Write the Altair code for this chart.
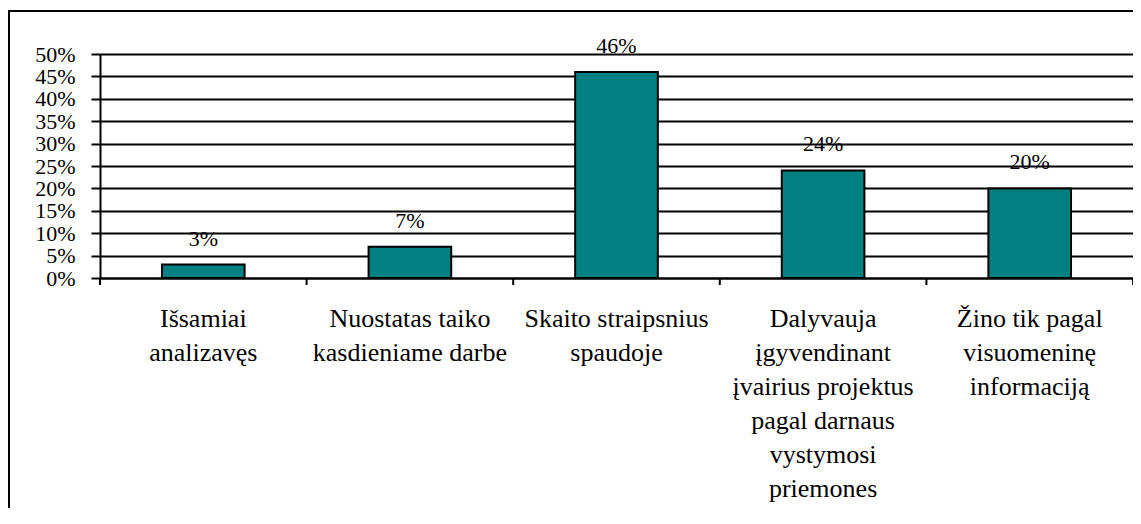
import altair as alt
import pandas as pd

categories = [
    "Išsamiai\nanalizavęs",
    "Nuostatas taiko\nkasdieniame darbe",
    "Skaito straipsnius\nspaudoje",
    "Dalyvauja\nįgyvendinant\nįvairius projektus\npagal darnaus\nvystymosi\npriemones",
    "Žino tik pagal\nvisuomeninę\ninformaciją",
]
shares = [0.03, 0.07, 0.46, 0.24, 0.20]
y_ticks = [0, 0.05, 0.10, 0.15, 0.20, 0.25, 0.30, 0.35, 0.40, 0.45, 0.50]

df = pd.DataFrame({"cat": categories, "share": shares})
one = df.head(1)

W, H = 1033, 224
FONT = "Liberation Serif"

x_axis = alt.Axis(
    title=None, labelAngle=0, ticks=False, grid=False,
    labelExpr="split(datum.label, '\\n')",
)
y_axis = alt.Axis(title=None, values=y_ticks, format=".0%", grid=True)

x_main = alt.X("cat:N", sort=categories,
               scale=alt.Scale(paddingInner=0, paddingOuter=0), axis=x_axis)
y_main = alt.Y("share:Q", scale=alt.Scale(domain=[0, 0.5], nice=False), axis=y_axis)

border = alt.Chart(one).mark_rect(fillOpacity=0, stroke="black", strokeWidth=2).encode(
    x=alt.value(-91), x2=alt.value(3000), y=alt.value(-43), y2=alt.value(3000)
)

bars = alt.Chart(df).mark_bar(
    width={"band": 0.4}, color="#008080", stroke="black", strokeWidth=2
).encode(x=x_main, y=y_main)

labels = alt.Chart(df).mark_text(
    dy=-19, baseline="alphabetic", font=FONT, fontSize=22, color="black"
).encode(
    x=alt.X("cat:N", sort=categories, axis=x_axis),
    y=alt.Y("share:Q", axis=y_axis),
    text=alt.Text("share:Q", format=".0%"),
)

xticks = alt.Chart(df).mark_rule(color="black", strokeWidth=2).encode(
    x=alt.X("cat:N", sort=categories, bandPosition=0, axis=x_axis),
    y=alt.value(H), y2=alt.value(H + 7),
)
last_tick = alt.Chart(one).mark_rule(color="black", strokeWidth=2).encode(
    x=alt.value(W), y=alt.value(H), y2=alt.value(H + 7)
)

chart = alt.layer(border, bars, labels, xticks, last_tick).properties(
    width=W, height=H,
    autosize=alt.AutoSizeParams(type="none"),
    padding={"left": 92, "top": 46, "right": 0, "bottom": 230},
).configure_view(stroke=None).configure_axis(
    domainColor="black", domainWidth=2, labelColor="black", labelFont=FONT,
    labelOverlap=False, labelLimit=0,
).configure_axisX(
    labelFontSize=26, labelLineHeight=34, labelPadding=27,
).configure_axisY(
    gridColor="black", gridWidth=2, tickColor="black", tickWidth=2, tickSize=9,
    labelPadding=16, labelFontSize=22,
)

chart.save("out.html", embed_options={"renderer": "svg", "actions": False})
